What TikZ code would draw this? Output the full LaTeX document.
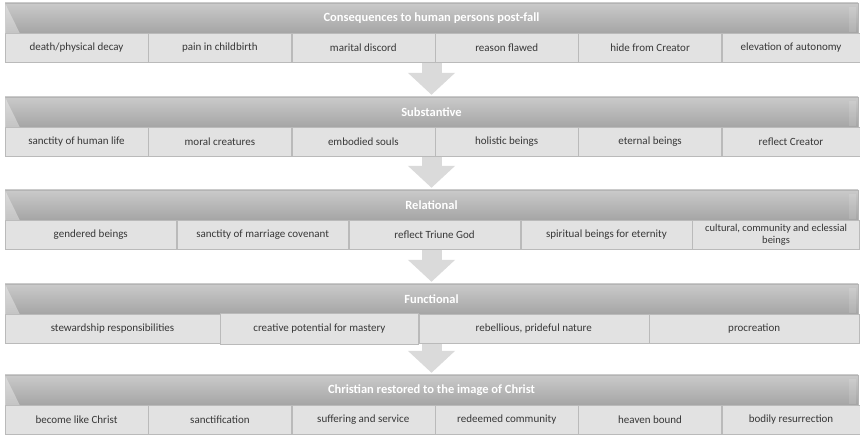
\documentclass[tikz,border=0pt]{standalone}
\usepackage{fontspec}
\setmainfont{Carlito}
\usetikzlibrary{arrows.meta,positioning,calc}
\definecolor{hdtop}{RGB}{202,202,202}
\definecolor{hdbot}{RGB}{165,165,165}
\definecolor{hdline}{RGB}{180,180,180}
\definecolor{cellfill}{RGB}{226,226,226}
\definecolor{cellline}{RGB}{186,186,186}
\definecolor{celltext}{RGB}{55,55,55}
\definecolor{arrowfill}{RGB}{218,218,218}
\tikzset{
  band/.style={draw=hdline, top color=hdtop, bottom color=hdbot, minimum width=853pt,
    minimum height=30pt, inner sep=0pt, text=white, font=\bfseries\fontsize{12.5}{13}\selectfont},
  cell/.style={draw=cellline, fill=cellfill, minimum height=29pt, inner sep=1pt,
    align=center, text=celltext, font=\fontsize{11}{10.5}\selectfont},
  wsix/.style={minimum width=143pt},
  wfive/.style={minimum width=171.5pt},
  blockarrow/.style={draw=arrowfill, line width=20pt, shorten >=2pt,
    -{Triangle[width=46pt,length=22pt,fill=arrowfill]}}
}

\begin{document}
\begin{tikzpicture}[x=1pt, y=-1pt]
    \useasboundingbox (0,0) rectangle (860,435);
    % consequences of the fall
    \node[band] (hd1) at (431.5,18) {Consequences to human persons post-fall};
    \node[cell, wsix, anchor=north west] (c11) at (hd1.south west) {death/physical decay};
    \node[cell, wsix, right=0pt of c11] (c12) {pain in childbirth};
    \node[cell, wsix, right=0pt of c12] (c13) {marital discord};
    \node[cell, wsix, right=0pt of c13] (c14) {reason flawed};
    \node[cell, wsix, right=0pt of c14] (c15) {hide from Creator};
    \node[cell, minimum width=138pt, right=0pt of c15] (c16) {elevation of autonomy};
    % substantive
    \node[band] (hd2) at (431.5,112) {Substantive};
    \node[cell, wsix, anchor=north west] (c21) at (hd2.south west) {sanctity of human life};
    \node[cell, wsix, right=0pt of c21] (c22) {moral creatures};
    \node[cell, wsix, right=0pt of c22] (c23) {embodied souls};
    \node[cell, wsix, right=0pt of c23] (c24) {holistic beings};
    \node[cell, wsix, right=0pt of c24] (c25) {eternal beings};
    \node[cell, minimum width=138pt, right=0pt of c25] (c26) {reflect Creator};
    % relational
    \node[band] (hd3) at (431.5,205) {Relational};
    \node[cell, wfive, anchor=north west] (c31) at (hd3.south west) {gendered beings};
    \node[cell, wfive, right=0pt of c31] (c32) {sanctity of marriage covenant};
    \node[cell, wfive, right=0pt of c32] (c33) {reflect Triune God};
    \node[cell, wfive, right=0pt of c33] (c34) {spiritual beings for eternity};
    \node[cell, minimum width=167pt, font=\fontsize{10.5}{11.5}\selectfont, right=0pt of c34] (c35) {cultural, community and eclessial\\beings};
    % functional
    \node[band] (hd4) at (431.5,299) {Functional};
    \node[cell, minimum width=215pt, anchor=north west] (c41) at (hd4.south west) {stewardship responsibilities};
    \node[cell, minimum width=198pt, minimum height=31pt, right=0pt of c41] (c42) {creative potential for mastery};
    \node[cell, minimum width=230pt, right=0pt of c42] (c43) {rebellious, prideful nature};
    \node[cell, minimum width=210pt, right=0pt of c43] (c44) {procreation};
    % restored
    \node[band] (hd5) at (431.5,390) {Christian restored to the image of Christ};
    \node[cell, wsix, anchor=north west] (c51) at (hd5.south west) {become like Christ};
    \node[cell, wsix, right=0pt of c51] (c52) {sanctification};
    \node[cell, wsix, right=0pt of c52] (c53) {suffering and service};
    \node[cell, wsix, right=0pt of c53] (c54) {redeemed community};
    \node[cell, wsix, right=0pt of c54] (c55) {heaven bound};
    \node[cell, minimum width=138pt, right=0pt of c55] (c56) {bodily resurrection};
    % bevels on the bands
    \foreach \h in {hd1,hd2,hd3,hd4,hd5} {
      \fill[white, opacity=0.35] (\h.north west) -- ($(\h.south west)+(15,0)$) -- (\h.south west) -- cycle;
      \fill[white, opacity=0.12] ($(\h.north east)+(-9,4)$) rectangle ($(\h.south east)+(-2,-1)$);
    }
    % arrows between the rows
    \draw[blockarrow] (c16.south -| hd1.center) -- (hd2.north);
    \draw[blockarrow] (c26.south -| hd2.center) -- (hd3.north);
    \draw[blockarrow] (c35.south -| hd3.center) -- (hd4.north);
    \draw[blockarrow] (c44.south -| hd4.center) -- (hd5.north);
\end{tikzpicture}
\end{document}
